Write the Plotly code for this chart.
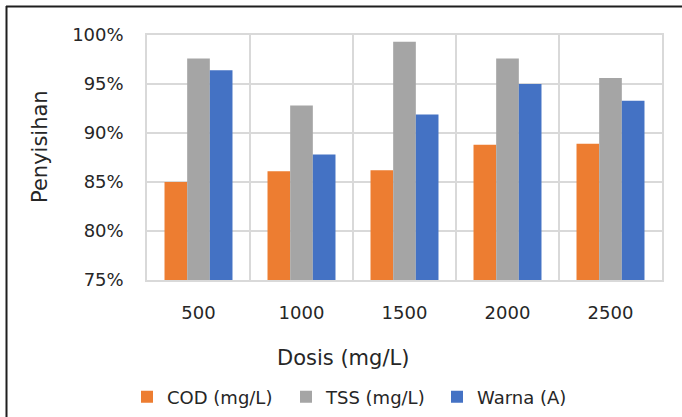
import plotly.graph_objects as go

categories = ["500", "1000", "1500", "2000", "2500"]
cod = [85.0, 86.1, 86.2, 88.8, 88.9]
tss = [97.6, 92.8, 99.3, 97.6, 95.6]
warna = [96.4, 87.8, 91.9, 95.0, 93.3]
series_names = ["COD (mg/L)", "TSS (mg/L)", "Warna (A)"]
colors = ["#ED7D31", "#A5A5A5", "#4472C4"]
y_ticks = [75, 80, 85, 90, 95, 100]

W, H = 682, 417
L, R, T, B = 147, 20, 35, 137
pw, ph = W - L - R, H - T - B

def px(x):
    return (x - L) / pw

def py(y):
    return (H - B - y) / ph

FONT = "DejaVu Sans"
TXT = "#262626"

legend_ids = ["legend", "legend2", "legend3"]
legend_left = [127, 286, 437]

fig = go.Figure()
for name, vals, col, lid in zip(series_names, [cod, tss, warna], colors, legend_ids):
    fig.add_trace(go.Bar(x=categories, y=vals, name=name, legend=lid,
                         marker=dict(color=col, line=dict(width=0))))

legend_common = dict(orientation="h", xanchor="left", yanchor="middle",
                     font=dict(size=18, family=FONT, color=TXT), itemclick=False,
                     bgcolor="rgba(0,0,0,0)")
legends = {}
for lid, lx in zip(legend_ids, legend_left):
    legends[lid] = dict(legend_common, x=px(lx), y=py(397))

fig.update_layout(
    width=W, height=H,
    margin=dict(l=L, r=R, t=T, b=B, autoexpand=False),
    paper_bgcolor="white", plot_bgcolor="white",
    barmode="group", bargap=0.34, bargroupgap=0,
    font=dict(family=FONT, color=TXT, size=18),
    showlegend=True,
    **legends,
    xaxis=dict(type="category", tickson="boundaries", showgrid=True, gridcolor="#D9D9D9", gridwidth=1.5,
               showline=True, linecolor="#D9D9D9", linewidth=1.5, mirror=True, automargin=False,
               ticks="", ticklabelstandoff=16, tickfont=dict(size=18, family=FONT, color=TXT)),
    yaxis=dict(range=[75, 100], tickvals=y_ticks, ticktext=[f"{v}%" for v in y_ticks],
               showgrid=True, gridcolor="#D9D9D9", gridwidth=1.5, zeroline=False, automargin=False,
               showline=True, linecolor="#D9D9D9", linewidth=1.5, mirror=True,
               ticks="", ticklabelstandoff=18, tickfont=dict(size=18, family=FONT, color=TXT)),
    annotations=[
        dict(text="Dosis (mg/L)", xref="paper", yref="paper", x=px(343), y=py(358),
             xanchor="center", yanchor="middle", showarrow=False,
             font=dict(size=21, family=FONT, color=TXT)),
        dict(text="Penyisihan", xref="paper", yref="paper", x=px(40), y=py(147),
             xanchor="center", yanchor="middle", showarrow=False, textangle=-90,
             font=dict(size=21, family=FONT, color=TXT)),
    ],
    shapes=[
        dict(type="line", xref="paper", yref="paper", x0=px(6), x1=px(690), y0=py(6.5), y1=py(6.5),
             line=dict(color="#1f1f1f", width=2)),
        dict(type="line", xref="paper", yref="paper", x0=px(6.5), x1=px(6.5), y0=py(6), y1=py(430),
             line=dict(color="#1f1f1f", width=2)),
    ],
)

fig.write_html("out.html")
